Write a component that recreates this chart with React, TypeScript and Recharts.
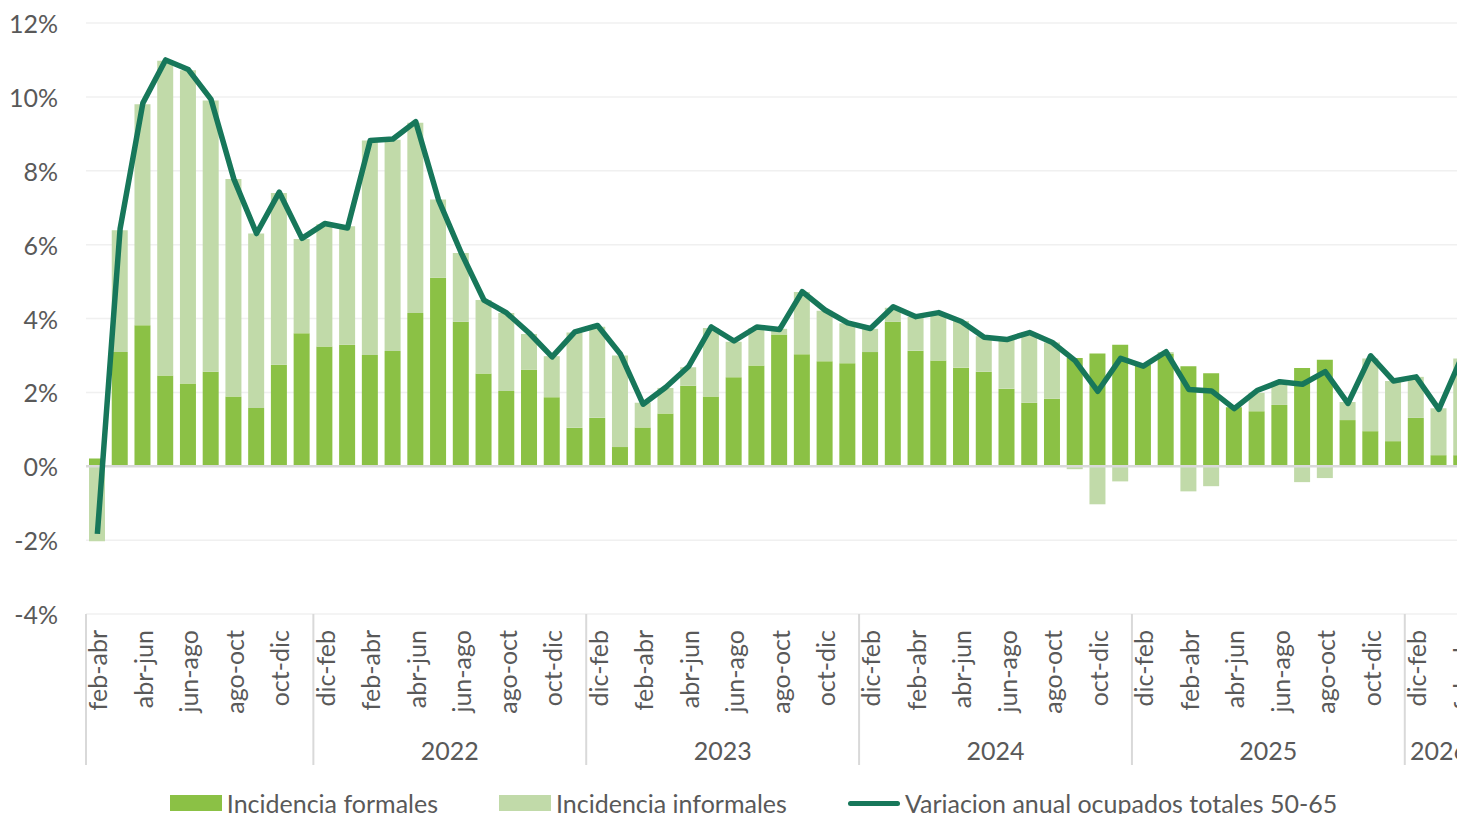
import React from 'react';
import { ComposedChart, Bar, Line, XAxis, YAxis, CartesianGrid, ReferenceLine, Legend } from 'recharts';

const periods = [
  'feb-abr', 'mar-may', 'abr-jun', 'may-jul', 'jun-ago', 'jul-sep', 'ago-oct', 'sep-nov', 'oct-dic', 'nov-ene',
  'dic-feb', 'ene-mar', 'feb-abr', 'mar-may', 'abr-jun', 'may-jul', 'jun-ago', 'jul-sep', 'ago-oct', 'sep-nov', 'oct-dic', 'nov-ene',
  'dic-feb', 'ene-mar', 'feb-abr', 'mar-may', 'abr-jun', 'may-jul', 'jun-ago', 'jul-sep', 'ago-oct', 'sep-nov', 'oct-dic', 'nov-ene',
  'dic-feb', 'ene-mar', 'feb-abr', 'mar-may', 'abr-jun', 'may-jul', 'jun-ago', 'jul-sep', 'ago-oct', 'sep-nov', 'oct-dic', 'nov-ene',
  'dic-feb', 'ene-mar', 'feb-abr', 'mar-may', 'abr-jun', 'may-jul', 'jun-ago', 'jul-sep', 'ago-oct', 'sep-nov', 'oct-dic', 'nov-ene',
  'dic-feb', 'ene-mar', 'feb-abr',
];

const formales = [
  0.21, 3.09, 3.82, 2.46, 2.24, 2.56, 1.89, 1.58, 2.75, 3.60,
  3.24, 3.29, 3.01, 3.12, 4.15, 5.10, 3.91, 2.51, 2.04, 2.61, 1.87, 1.04,
  1.31, 0.52, 1.05, 1.43, 2.18, 1.89, 2.41, 2.73, 3.57, 3.03, 2.84, 2.79,
  3.09, 3.91, 3.13, 2.86, 2.67, 2.56, 2.10, 1.72, 1.83, 2.93, 3.05, 3.29,
  2.74, 3.05, 2.71, 2.52, 1.60, 1.49, 1.66, 2.66, 2.88, 1.25, 0.95, 0.68,
  1.31, 0.30, 0.30,
];

const informales = [
  -2.03, 3.30, 5.98, 8.52, 8.48, 7.34, 5.89, 4.72, 4.65, 2.55,
  3.31, 3.21, 5.81, 5.72, 5.15, 2.12, 1.86, 1.99, 2.11, 0.97, 1.11, 2.58,
  2.47, 2.48, 0.67, 0.69, 0.50, 1.85, 0.96, 1.01, 0.15, 1.69, 1.37, 1.08,
  0.63, 0.38, 0.91, 1.28, 1.26, 0.96, 1.32, 1.88, 1.52, -0.08, -1.03, -0.41,
  0.0, 0.04, -0.68, -0.54, -0.03, 0.50, 0.58, -0.43, -0.32, 0.49, 1.97, 1.63,
  1.11, 1.27, 2.62,
];

const variacion = [
  -1.83, 6.43, 9.83, 11.0, 10.74, 9.93, 7.78, 6.30, 7.42, 6.17,
  6.57, 6.45, 8.82, 8.86, 9.33, 7.22, 5.78, 4.50, 4.15, 3.60, 2.96, 3.64,
  3.81, 3.04, 1.68, 2.14, 2.70, 3.77, 3.39, 3.77, 3.70, 4.73, 4.23, 3.88,
  3.73, 4.32, 4.05, 4.16, 3.92, 3.49, 3.43, 3.62, 3.35, 2.86, 2.03, 2.92,
  2.71, 3.10, 2.08, 2.04, 1.56, 2.05, 2.29, 2.22, 2.56, 1.70, 2.99, 2.31,
  2.42, 1.54, 2.95,
];

const yearLabels = ['', '2022', '2023', '2024', '2025', '2026'];
const yearSizes = [10, 12, 12, 12, 12, 3];
const yTicks = [-4, -2, 0, 2, 4, 6, 8, 10, 12];

const seriesNames = ['Incidencia formales', 'Incidencia informales', 'Variacion anual ocupados totales 50-65'];
const COLOR_FORMAL = '#8BC145';
const COLOR_INFORMAL = '#C1DAA9';
const COLOR_LINE = '#17775A';
const TEXT = '#595959';
const FONT = 'Lato, "Open Sans", sans-serif';
const FS = 25;

const CHART_W = 1490;
const CHART_H = 840;
const Y_W = 78;
const M_RIGHT = 25;
const M_TOP = 15;
const N = periods.length;
const BW = (CHART_W - Y_W - M_RIGHT) / N;

const groupStarts: number[] = [];
{
  let acc = 0;
  for (const s of yearSizes) {
    groupStarts.push(acc);
    acc += s;
  }
}

const data = periods.map((p, i) => ({
  id: String(i),
  label: p,
  formal: formales[i],
  informal: informales[i],
  total: variacion[i],
}));

function CatTick(props: any) {
  const { x, y, payload } = props;
  const i = Number(payload.value);
  const g = groupStarts.indexOf(i);
  return (
    <g>
      <text
        transform={`translate(${x},${y + 16}) rotate(-90)`}
        textAnchor="end"
        dominantBaseline="central"
        fill={TEXT}
        fontSize={FS}
        fontFamily={FONT}
      >
        {periods[i]}
      </text>
      {g >= 0 && (
        <line x1={x - BW / 2} x2={x - BW / 2} y1={y} y2={y + 151} stroke="#D9D9D9" strokeWidth={2} />
      )}
      {g >= 0 && yearLabels[g] !== '' && (
        <text
          x={x - BW / 2 + (yearSizes[g] * BW) / 2}
          y={y + 136}
          textAnchor="middle"
          dominantBaseline="central"
          fill={TEXT}
          fontSize={FS}
          fontFamily={FONT}
        >
          {yearLabels[g]}
        </text>
      )}
    </g>
  );
}

function YTick(props: any) {
  const { x, y, payload } = props;
  return (
    <text x={x - 28} y={y} textAnchor="end" dominantBaseline="central" fill={TEXT} fontSize={FS} fontFamily={FONT}>
      {`${payload.value}%`}
    </text>
  );
}

function LegendContent() {
  const item: React.CSSProperties = { display: 'flex', alignItems: 'center', height: 30 };
  const txt: React.CSSProperties = { fontFamily: FONT, fontSize: FS, color: TEXT, marginLeft: 5, whiteSpace: 'nowrap' };
  return (
    <div style={{ height: 60, display: 'flex', justifyContent: 'center', alignItems: 'flex-start', gap: 61, paddingLeft: 26 }}>
      <div style={item}>
        <span style={{ display: 'inline-block', width: 52, height: 16, background: COLOR_FORMAL }} />
        <span style={txt}>{seriesNames[0]}</span>
      </div>
      <div style={item}>
        <span style={{ display: 'inline-block', width: 52, height: 16, background: COLOR_INFORMAL }} />
        <span style={txt}>{seriesNames[1]}</span>
      </div>
      <div style={item}>
        <span style={{ display: 'inline-block', width: 52, height: 5, borderRadius: 3, background: COLOR_LINE }} />
        <span style={txt}>{seriesNames[2]}</span>
      </div>
    </div>
  );
}

export default function App() {
  return (
    <div style={{ position: 'fixed', left: 0, top: 0, width: 1457, height: 814, overflow: 'hidden', background: '#fff' }}>
      <div style={{ position: 'absolute', left: 8, top: 8 }}>
        <ComposedChart
          width={CHART_W}
          height={CHART_H}
          data={data}
          stackOffset="sign"
          margin={{ top: M_TOP, right: M_RIGHT, bottom: 0, left: 0 }}
        >
          <CartesianGrid vertical={false} stroke="#F0F0F0" strokeWidth={1.5} />
          <YAxis
            width={Y_W}
            domain={[-4, 12]}
            ticks={yTicks}
            axisLine={false}
            tickLine={false}
            tickSize={0}
            tickMargin={0}
            tick={<YTick />}
            allowDataOverflow
          />
          <XAxis
            dataKey="id"
            interval={1}
            height={174}
            axisLine={false}
            tickLine={false}
            tickSize={0}
            tickMargin={0}
            tick={<CatTick />}
          />
          <ReferenceLine y={0} stroke="#D9D9D9" strokeWidth={2.5} />
          <Bar dataKey="formal" name={seriesNames[0]} stackId="a" fill={COLOR_FORMAL} barSize={16} isAnimationActive={false} />
          <Bar dataKey="informal" name={seriesNames[1]} stackId="a" fill={COLOR_INFORMAL} barSize={16} isAnimationActive={false} />
          <Line
            dataKey="total"
            name={seriesNames[2]}
            type="linear"
            stroke={COLOR_LINE}
            strokeWidth={5.5}
            strokeLinejoin="round"
            dot={false}
            activeDot={false}
            isAnimationActive={false}
          />
          <Legend verticalAlign="bottom" content={<LegendContent />} />
        </ComposedChart>
      </div>
    </div>
  );
}
